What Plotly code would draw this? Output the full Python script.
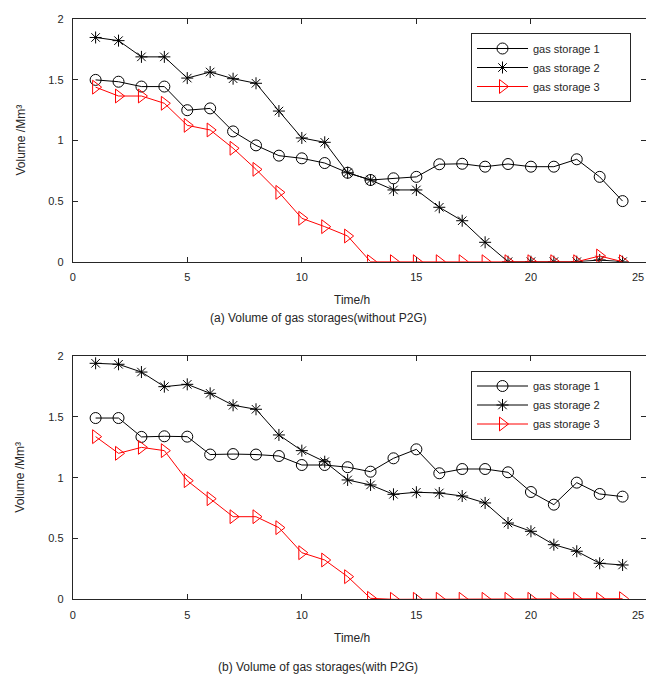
import plotly.graph_objects as go

hours = list(range(1, 25))

# (a) without P2G
a_gs1 = [1.50, 1.485, 1.445, 1.445, 1.25, 1.265, 1.075, 0.96, 0.875, 0.853, 0.814, 0.734,
         0.674, 0.688, 0.70, 0.804, 0.808, 0.784, 0.806, 0.784, 0.784, 0.845, 0.70, 0.50]
a_gs2 = [1.85, 1.824, 1.69, 1.69, 1.515, 1.565, 1.51, 1.472, 1.243, 1.021, 0.985, 0.734,
         0.674, 0.592, 0.592, 0.449, 0.338, 0.16, 0.0, 0.0, 0.0, 0.0, 0.014, 0.0]
a_gs3 = [1.44, 1.367, 1.367, 1.307, 1.125, 1.087, 0.936, 0.762, 0.572, 0.358, 0.289, 0.212,
         0.0, 0.0, 0.0, 0.0, 0.0, 0.0, 0.0, 0.0, 0.0, 0.0, 0.047, 0.0]

# (b) with P2G
b_gs1 = [1.49, 1.49, 1.335, 1.34, 1.337, 1.19, 1.194, 1.19, 1.178, 1.104, 1.104, 1.086,
         1.049, 1.159, 1.233, 1.036, 1.071, 1.071, 1.044, 0.882, 0.778, 0.959, 0.866, 0.844]
b_gs2 = [1.94, 1.932, 1.868, 1.748, 1.767, 1.693, 1.595, 1.562, 1.351, 1.222, 1.131, 0.981,
         0.94, 0.863, 0.88, 0.874, 0.849, 0.792, 0.627, 0.559, 0.449, 0.395, 0.296, 0.282]
b_gs3 = [1.337, 1.20, 1.249, 1.222, 0.975, 0.827, 0.679, 0.679, 0.589, 0.383, 0.323, 0.186,
         0.008, 0.0, 0.0, 0.0, 0.0, 0.0, 0.0, 0.0, 0.0, 0.0, 0.0, 0.005]

names = ["gas storage 1", "gas storage 2", "gas storage 3"]
x_ticks = [0, 5, 10, 15, 20, 25]
x_ticklabels = ["0", "5", "10", "15", "20", "25"]
y_ticks = [0, 0.5, 1, 1.5, 2]
y_ticklabels = ["0", "0.5", "1", "1.5", "2"]
captions = ["(a) Volume of gas storages(without P2G)", "(b) Volume of gas storages(with P2G)"]

W, H = 646, 675
FONT = "Arial, Liberation Sans, sans-serif"
PAD = "\u00a0" * 8  # widens the legend box
TXT = "#262626"

def px(x):
    return x / W

def py(y):
    return 1 - y / H

styles = [
    dict(color="black", symbol="circle-open", size=11),
    dict(color="black", symbol="asterisk-open", size=10),
    dict(color="red", symbol="triangle-right-open", size=12),
]

fig = go.Figure()

panels = [
    dict(data=[a_gs1, a_gs2, a_gs3], xa="x", ya="y", legend="legend", top=19.3, bot=261.7),
    dict(data=[b_gs1, b_gs2, b_gs3], xa="x2", ya="y2", legend="legend2", top=356.0, bot=599.3),
]

for p in panels:
    for name, vals, st in zip(names, p["data"], styles):
        fig.add_trace(go.Scatter(
            x=hours, y=vals, name=name + PAD, mode="lines+markers",
            xaxis=p["xa"], yaxis=p["ya"], legend=p["legend"],
            line=dict(color=st["color"], width=1),
            marker=dict(symbol=st["symbol"], size=st["size"], color=st["color"],
                        line=dict(width=1, color=st["color"])),
        ))

axis_common = dict(
    showline=True, linecolor=TXT, linewidth=1, mirror="ticks",
    ticks="inside", ticklen=5, tickcolor=TXT, showgrid=False, zeroline=False,
    tickfont=dict(family=FONT, size=11, color=TXT),
)

# the last x tick label sits at the right edge of the page; draw it right-aligned so it stays visible
x_ticktext_axis = x_ticklabels[:-1] + [""]

x_dom = [px(72.7), px(645.5)]
legend_common = dict(xanchor="left", yanchor="top",
                     bgcolor="white", bordercolor=TXT, borderwidth=1,
                     font=dict(family=FONT, size=11, color=TXT),
                     itemwidth=51, tracegroupgap=0)
fig.update_layout(
    width=W, height=H,
    margin=dict(l=0, r=0, t=0, b=0, autoexpand=False),
    paper_bgcolor="white", plot_bgcolor="white",
    font=dict(family=FONT, size=11, color=TXT),
    xaxis=dict(domain=x_dom, range=[0, 25], tickvals=x_ticks, ticktext=x_ticktext_axis,
               anchor="y", ticklabelstandoff=5, **axis_common),
    yaxis=dict(domain=[py(261.7), py(19.3)], range=[0, 2], tickvals=y_ticks,
               ticktext=y_ticklabels, anchor="x", ticklabelstandoff=6, **axis_common),
    xaxis2=dict(domain=x_dom, range=[0, 25], tickvals=x_ticks, ticktext=x_ticktext_axis,
                anchor="y2", ticklabelstandoff=5, **axis_common),
    yaxis2=dict(domain=[py(599.3), py(356.0)], range=[0, 2], tickvals=y_ticks,
                ticktext=y_ticklabels, anchor="x2", ticklabelstandoff=6, **axis_common),
    legend=dict(x=px(471), y=py(33), **legend_common),
    legend2=dict(x=px(471), y=py(370.5), **legend_common),
    showlegend=True,
)

annotations = []
for p, cap, time_y, cap_y in [(panels[0], captions[0], 300.0, 318.3),
                               (panels[1], captions[1], 638.3, 666.7)]:
    annotations.append(dict(text="Volume /Mm³", textangle=-90, x=px(20), y=py((p["top"] + p["bot"]) / 2),
                            xref="paper", yref="paper", showarrow=False,
                            xanchor="center", yanchor="middle",
                            font=dict(family=FONT, size=12, color=TXT)))
    annotations.append(dict(text="Time/h", x=px(352), y=py(time_y), xref="paper", yref="paper",
                            showarrow=False, xanchor="center", yanchor="middle",
                            font=dict(family=FONT, size=12, color=TXT)))
    annotations.append(dict(text=cap, x=px(318), y=py(cap_y), xref="paper", yref="paper",
                            showarrow=False, xanchor="center", yanchor="middle",
                            font=dict(family=FONT, size=12, color=TXT)))
    annotations.append(dict(text=x_ticklabels[-1], x=x_ticks[-1], y=0,
                            xref=p["xa"], yref=p["ya"], showarrow=False,
                            xanchor="right", yanchor="middle", yshift=-15.5,
                            font=dict(family=FONT, size=11, color=TXT)))
fig.update_layout(annotations=annotations)

fig.write_html("out.html", config={"displayModeBar": False},
               post_script="document.body.style.margin='0';document.body.style.overflow='hidden';")
